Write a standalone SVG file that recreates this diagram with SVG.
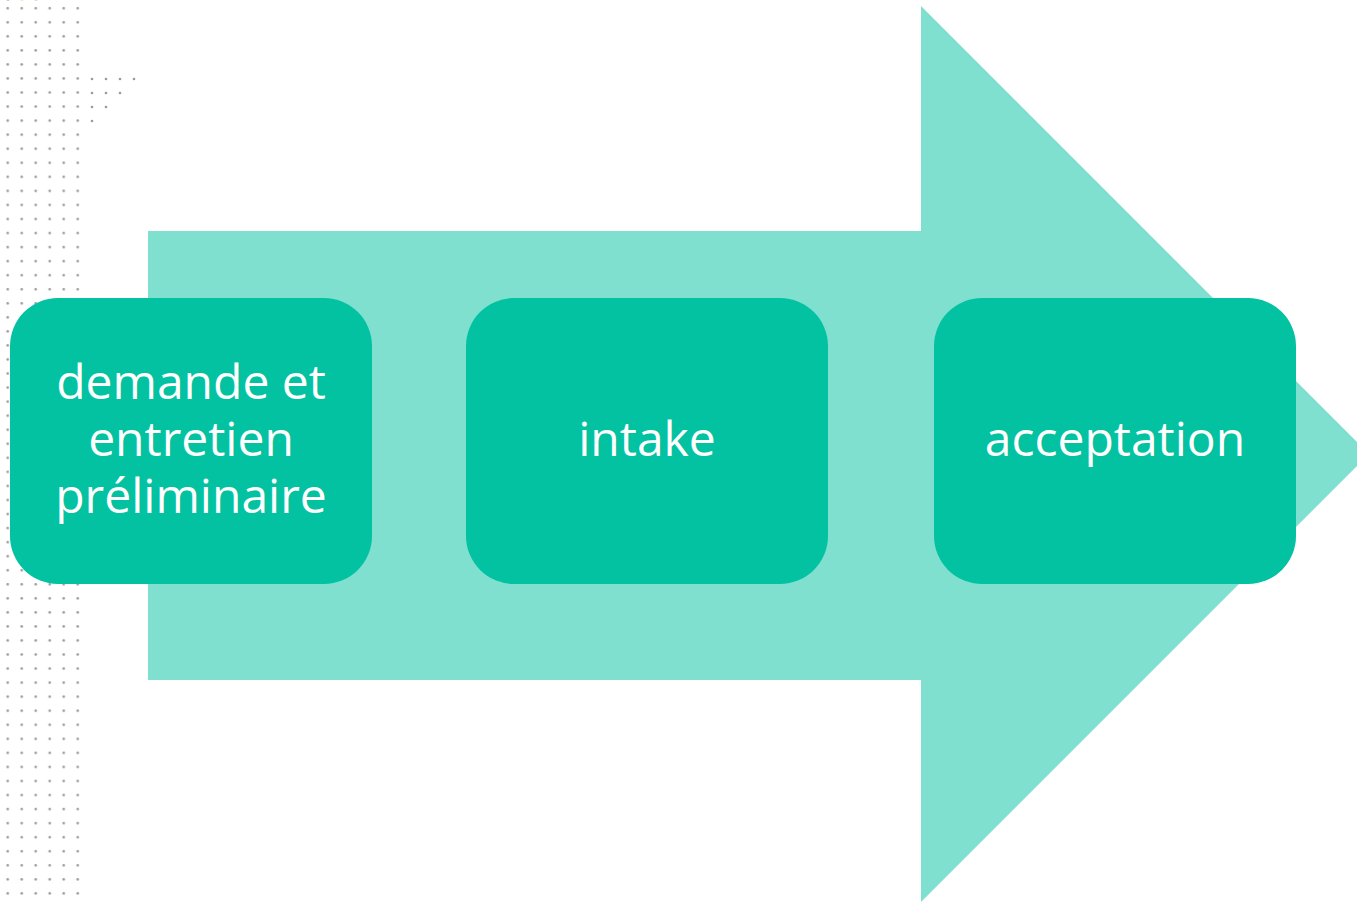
<svg xmlns="http://www.w3.org/2000/svg" width="1357" height="903" viewBox="0 0 1357 903">
<style>
.box{fill:#03C2A1}
.lbl{font-family:"Open Sans","Noto Sans",sans-serif;font-size:48px;fill:#ffffff;text-anchor:middle}
.dot{fill:#9a9a9a}
</style>
<defs>
<pattern id="dots" x="0.7" y="1.3" width="14" height="14.05" patternUnits="userSpaceOnUse">
<circle cx="7" cy="7" r="1.3" fill="#9a9a9a"/>
</pattern>
</defs>
<rect width="1357" height="903" fill="#ffffff"/>
<g id="dotgrid">
<rect x="0" y="1" width="84" height="899" fill="url(#dots)"/>
<circle class="dot" cx="92" cy="79" r="1.3"/><circle class="dot" cx="106" cy="79" r="1.3"/><circle class="dot" cx="120" cy="79" r="1.3"/><circle class="dot" cx="134" cy="79" r="1.3"/>
<circle class="dot" cx="92" cy="93" r="1.3"/><circle class="dot" cx="106" cy="93" r="1.3"/><circle class="dot" cx="120" cy="93" r="1.3"/>
<circle class="dot" cx="92" cy="107" r="1.3"/><circle class="dot" cx="106" cy="107" r="1.3"/>
<circle class="dot" cx="92" cy="121" r="1.3"/>
<circle cx="8" cy="-2" r="2.5" fill="#9a9a9a"/>
<circle cx="22" cy="-2" r="2.5" fill="#f5d76e"/>
<circle cx="36" cy="-2" r="2.5" fill="#f2a0a8"/>
</g>
<g id="arrow">
<polygon points="148,231 921,231 921,6 1369,454 921,902 921,680 148,680" fill="#80E0D0"/>
</g>
<g id="connectors"></g>
<g id="node1">
<rect class="box" x="10" y="298" width="362" height="286" rx="48"/>
<text class="lbl" x="191" y="399">demande et</text>
<text class="lbl" x="191" y="456">entretien</text>
<text class="lbl" x="191" y="513">préliminaire</text>
</g>
<g id="node2">
<rect class="box" x="466" y="298" width="362" height="286" rx="48"/>
<text class="lbl" x="647" y="456">intake</text>
</g>
<g id="node3">
<rect class="box" x="934" y="298" width="362" height="286" rx="48"/>
<text class="lbl" x="1115" y="456">acceptation</text>
</g>
</svg>
